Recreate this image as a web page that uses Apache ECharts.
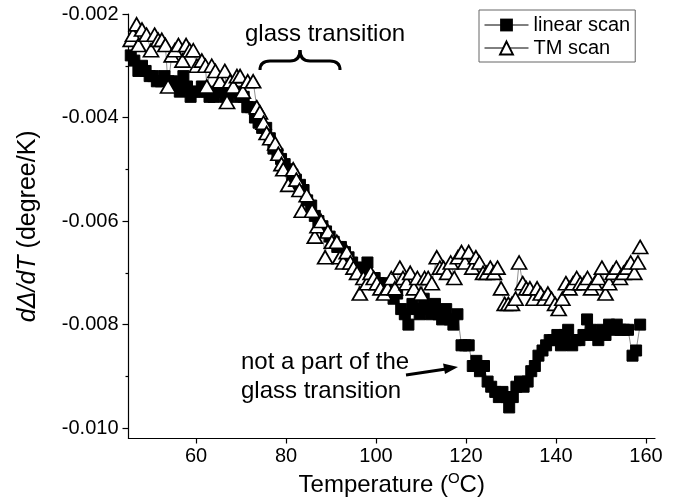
<!DOCTYPE html>
<html><head><meta charset="utf-8">
<script src="https://cdn.jsdelivr.net/npm/echarts@6/dist/echarts.min.js"></script>
<style>html,body{margin:0;padding:0;background:#fff}#c{width:677px;height:502px}</style>
</head><body><div id="c"></div>
<script>
const xTicks = [60, 80, 100, 120, 140, 160];
const yTicks = [-0.002, -0.004, -0.006, -0.008, -0.010];
const yMinorTicks = [-0.003, -0.005, -0.007, -0.009];
const seriesNames = ['linear scan', 'TM scan'];

const linearT = [45.5,46.3,47.2,48.0,48.8,49.7,50.5,51.3,52.2,53.0,53.9,54.7,55.5,56.4,57.2,58.0,58.8,59.7,60.5,61.3,62.2,63.0,63.9,64.7,65.5,66.4,67.2,68.0,68.9,69.7,70.6,71.4,72.2,73.1,73.9,74.7,75.6,76.4,77.2,78.1,78.9,79.7,80.6,81.4,82.2,83.1,83.9,84.7,85.6,86.4,87.2,88.1,88.9,89.7,90.6,91.4,92.2,93.1,93.9,94.7,95.6,96.4,97.2,98.1,98.9,99.7,100.6,101.4,102.2,103.1,103.9,104.7,105.6,106.4,107.2,108.1,108.9,109.7,110.6,111.4,112.2,113.1,113.9,114.7,115.6,116.4,117.2,118.1,119.0,119.8,120.6,121.5,122.3,123.1,124.0,124.8,125.6,126.5,127.3,128.1,129.0,129.6,130.4,131.2,132.0,132.8,133.7,134.5,135.3,136.1,137.0,137.8,138.6,139.4,140.3,141.1,141.9,142.7,143.6,144.4,145.2,146.1,146.9,147.7,148.5,149.4,150.2,151.0,151.8,152.7,153.5,154.3,155.1,156.0,157.0,157.8,158.7];
const linearV = [-0.0028,-0.0029,-0.0031,-0.0030,-0.0031,-0.0032,-0.0032,-0.0033,-0.0033,-0.0032,-0.0033,-0.0033,-0.0034,-0.0035,-0.0032,-0.0034,-0.0036,-0.0035,-0.0035,-0.0034,-0.0035,-0.0036,-0.0036,-0.0035,-0.0035,-0.0036,-0.0036,-0.0035,-0.0035,-0.0036,-0.0036,-0.0038,-0.0038,-0.0040,-0.0041,-0.0042,-0.0042,-0.0044,-0.0046,-0.0047,-0.0048,-0.0049,-0.0050,-0.0051,-0.0052,-0.0053,-0.0054,-0.0056,-0.0057,-0.0059,-0.0060,-0.0061,-0.0062,-0.0063,-0.0064,-0.0065,-0.0065,-0.0066,-0.0067,-0.0068,-0.0069,-0.0069,-0.0070,-0.0068,-0.0071,-0.0071,-0.0072,-0.0072,-0.0073,-0.0074,-0.0075,-0.0074,-0.0077,-0.0078,-0.0080,-0.0076,-0.0077,-0.0078,-0.0075,-0.0077,-0.0078,-0.0076,-0.0078,-0.0079,-0.0077,-0.0079,-0.0080,-0.0078,-0.0084,-0.0084,-0.0084,-0.0088,-0.0087,-0.0089,-0.0088,-0.0091,-0.0092,-0.0093,-0.0094,-0.0093,-0.0094,-0.0096,-0.0094,-0.0092,-0.0091,-0.0092,-0.0091,-0.0089,-0.0088,-0.0086,-0.0085,-0.0084,-0.0083,-0.0083,-0.0082,-0.0084,-0.0082,-0.0081,-0.0084,-0.0083,-0.0083,-0.0082,-0.0079,-0.0081,-0.0082,-0.0083,-0.0081,-0.0082,-0.0080,-0.0081,-0.0080,-0.0081,-0.0081,-0.0081,-0.0086,-0.0085,-0.0080];

const tmT = [45.5,46.0,46.8,47.2,48.0,49.0,50.0,50.8,51.6,52.4,53.2,53.8,54.6,55.3,56.1,57.0,57.8,58.6,59.4,60.2,61.3,62.1,62.4,63.5,64.3,65.3,66.4,66.9,67.6,68.3,69.1,69.8,70.4,71.5,72.7,73.5,74.2,75.0,75.7,76.5,77.6,78.3,79.0,79.4,80.5,81.6,82.3,83.0,83.5,84.6,85.8,86.4,87.0,87.8,88.7,89.3,90.2,91.3,92.0,92.7,93.5,94.3,95.0,95.8,96.4,97.2,98.0,98.8,99.5,100.2,101.0,101.8,102.6,103.4,104.2,105.3,106.0,106.8,107.6,108.4,109.2,110.0,110.8,111.6,112.4,113.5,114.2,115.0,115.8,116.6,117.4,118.2,119.0,119.8,120.6,121.4,122.2,123.0,123.8,124.6,125.4,126.2,127.0,127.8,128.6,129.4,130.2,131.0,131.8,132.6,133.4,134.2,135.0,135.8,136.6,137.4,138.2,139.0,139.8,140.6,141.4,142.2,143.0,143.8,144.6,145.4,146.2,147.0,147.8,148.6,149.4,150.2,151.0,151.8,152.6,153.4,154.2,155.0,155.8,156.6,157.4,158.2,158.7];
const tmV = [-0.0025,-0.0024,-0.0022,-0.0026,-0.0023,-0.0024,-0.0027,-0.0024,-0.0025,-0.0025,-0.0026,-0.0034,-0.0028,-0.0027,-0.0026,-0.0029,-0.0026,-0.0027,-0.0027,-0.0030,-0.0029,-0.0030,-0.0034,-0.0030,-0.0031,-0.0033,-0.0031,-0.0037,-0.0033,-0.0034,-0.0032,-0.0032,-0.0035,-0.0033,-0.0033,-0.0038,-0.0039,-0.0041,-0.0043,-0.0044,-0.0045,-0.0047,-0.0049,-0.0050,-0.0053,-0.0050,-0.0052,-0.0054,-0.0058,-0.0055,-0.0058,-0.0063,-0.0061,-0.0060,-0.0067,-0.0062,-0.0064,-0.0064,-0.0067,-0.0068,-0.0066,-0.0068,-0.0069,-0.0070,-0.0074,-0.0071,-0.0072,-0.0070,-0.0071,-0.0072,-0.0073,-0.0074,-0.0073,-0.0071,-0.0073,-0.0069,-0.0071,-0.0072,-0.0070,-0.0073,-0.0071,-0.0074,-0.0071,-0.0071,-0.0072,-0.0067,-0.0069,-0.0069,-0.0070,-0.0068,-0.0071,-0.0067,-0.0066,-0.0068,-0.0066,-0.0069,-0.0067,-0.0068,-0.0070,-0.0070,-0.0069,-0.0070,-0.0069,-0.0073,-0.0076,-0.0076,-0.0076,-0.0075,-0.0068,-0.0072,-0.0073,-0.0073,-0.0075,-0.0073,-0.0074,-0.0075,-0.0074,-0.0075,-0.0076,-0.0077,-0.0075,-0.0072,-0.0073,-0.0072,-0.0071,-0.0072,-0.0072,-0.0071,-0.0073,-0.0072,-0.0071,-0.0069,-0.0074,-0.0072,-0.0070,-0.0069,-0.0071,-0.0070,-0.0069,-0.0068,-0.0070,-0.0068,-0.0065];

const FONT = '"Liberation Sans", Arial, sans-serif';
const zip = (a, b) => a.map((v, i) => [v, b[i]]);

const chart = echarts.init(document.getElementById('c'), null, {renderer: 'canvas'});
const axisCommon = {
  axisLine: {show: true, lineStyle: {color: '#000', width: 1.2}},
  splitLine: {show: false}
};
const braceStyle = {stroke: '#000', lineWidth: 3, fill: null};
chart.setOption({
  animation: false,
  backgroundColor: '#fff',
  grid: {left: 128.5, right: 22, top: 14, bottom: 59.5, containLabel: false},
  legend: {
    left: 479, top: 10, orient: 'vertical',
    borderColor: '#666', borderWidth: 1,
    padding: [5, 5, 4, 5], itemGap: 3,
    itemWidth: 44, itemHeight: 16,
    lineStyle: {width: 1, color: '#000'},
    textStyle: {fontSize: 20, fontFamily: FONT, color: '#000'},
    data: seriesNames
  },
  xAxis: [{
    type: 'value', min: 45, max: 162,
    name: 'Temperature ({sup|O}C)', nameLocation: 'middle', nameGap: 33,
    nameTextStyle: {fontSize: 24, fontFamily: FONT, color: '#000',
      rich: {sup: {fontSize: 15, verticalAlign: 'top', padding: [0, 0, 12, 0], fontFamily: FONT, color: '#000'}}},
    ...axisCommon,
    axisTick: {show: true, inside: false, length: 5, customValues: xTicks, lineStyle: {color: '#000', width: 1.2}},
    axisLabel: {customValues: xTicks, fontSize: 20, fontFamily: FONT, color: '#000', margin: 8}
  }],
  yAxis: [{
    type: 'value', min: -0.0102, max: -0.002,
    name: '{i|dΔ/dT} (degree/K)', nameLocation: 'middle', nameGap: 88, nameRotate: 90,
    nameTextStyle: {fontSize: 25, fontFamily: FONT, color: '#000',
      rich: {i: {fontStyle: 'italic', fontSize: 25, fontFamily: FONT, color: '#000'}}},
    ...axisCommon,
    axisTick: {show: true, inside: false, length: 6, customValues: yTicks, lineStyle: {color: '#000', width: 1.2}},
    axisLabel: {customValues: yTicks, fontSize: 20, fontFamily: FONT, color: '#000', margin: 10,
      formatter: v => v.toFixed(3)}
  }, {
    type: 'value', min: -0.0102, max: -0.002, position: 'left',
    axisLine: {show: false}, splitLine: {show: false},
    axisTick: {show: true, inside: false, length: 3, customValues: yMinorTicks, lineStyle: {color: '#000', width: 1.2}},
    axisLabel: {show: false}
  }],
  series: [{
    name: seriesNames[0], type: 'line', data: zip(linearT, linearV),
    symbol: 'rect', symbolSize: 11,
    itemStyle: {color: '#000', borderColor: '#000'},
    lineStyle: {color: '#444', width: 0.6}
  }, {
    name: seriesNames[1], type: 'line', data: zip(tmT, tmV),
    symbol: 'triangle', symbolSize: [15, 13],
    itemStyle: {color: '#fff', borderColor: '#000', borderWidth: 1.7},
    lineStyle: {color: '#444', width: 0.6}
  }],
  graphic: [
    {type: 'text', left: 245, top: 22, style: {text: 'glass transition', font: '24px ' + FONT, fill: '#000'}},
    {type: 'bezierCurve', shape: {x1: 260, y1: 70, x2: 270, y2: 61, cpx1: 260, cpy1: 61}, style: braceStyle},
    {type: 'line', shape: {x1: 270, y1: 61, x2: 290, y2: 61}, style: braceStyle},
    {type: 'bezierCurve', shape: {x1: 290, y1: 61, x2: 300, y2: 50, cpx1: 300, cpy1: 61}, style: braceStyle},
    {type: 'bezierCurve', shape: {x1: 300, y1: 50, x2: 310, y2: 61, cpx1: 300, cpy1: 61}, style: braceStyle},
    {type: 'line', shape: {x1: 310, y1: 61, x2: 330, y2: 61}, style: braceStyle},
    {type: 'bezierCurve', shape: {x1: 330, y1: 61, x2: 340, y2: 70, cpx1: 340, cpy1: 61}, style: braceStyle},
    {type: 'text', left: 241, top: 350, style: {text: 'not a part of the', font: '24px ' + FONT, fill: '#000'}},
    {type: 'text', left: 241, top: 379, style: {text: 'glass transition', font: '24px ' + FONT, fill: '#000'}},
    {type: 'line', shape: {x1: 406, y1: 375, x2: 446, y2: 369}, style: {stroke: '#000', lineWidth: 3}},
    {type: 'polygon', shape: {points: [[458, 367], [443, 363.5], [445, 374]]}, style: {fill: '#000'}}
  ]
});
</script></body></html>
